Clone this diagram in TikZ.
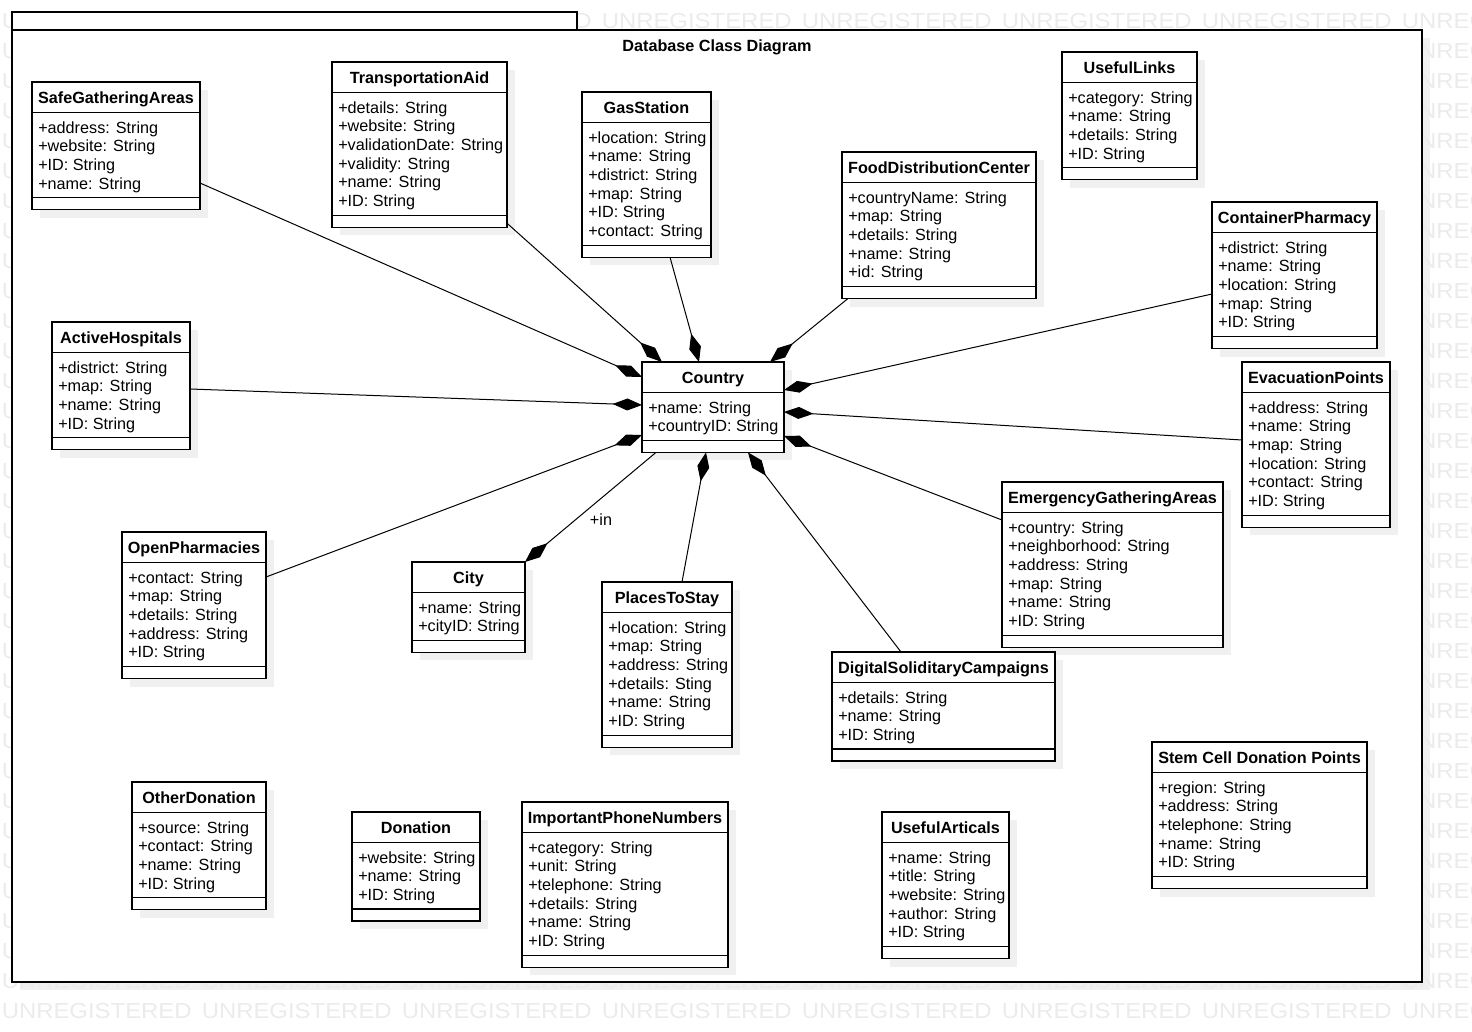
\documentclass[tikz,border=0pt]{standalone}
\usepackage{fontspec}
\setmainfont{Liberation Sans}
\usepackage{xcolor}
\usetikzlibrary{positioning,arrows.meta}
\definecolor{shadowgray}{RGB}{240,240,240}
\definecolor{markgray}{RGB}{235,235,235}

\newcommand{\umlfont}{\fontsize{12.15}{14}\selectfont}
% class box: name, x, y, width, number of attributes, title, attributes
\newcommand{\umlclass}[7]{%
    \fill[shadowgray] (#2+8,#3+8) rectangle ++(#4,{53+#5*18.7});
    \node[classbox, minimum width={#4*0.75pt}, minimum height={(53+#5*18.7)*0.75pt}] (#1) at (#2,#3) {};
    \node[classtitle, below=0pt of #1.north] (#1-t) {#6};
    \draw[classline] (#1-t.south -| #1.west) -- (#1-t.south -| #1.east);
    \node[classattr] (#1-a) at (#1-t.south -| #1.west) {\strut#7};
    \draw[classline] ([yshift=9pt]#1.south west) -- ([yshift=9pt]#1.south east);
}
\newcommand{\markword}[1]{\scalebox{1.1}[1]{#1}}

\tikzset{
    classbox/.style={draw, fill=white, line width=1pt, anchor=north west, inner sep=0pt, outer sep=0pt},
    classline/.style={line width=1pt},
    classtitle/.style={font=\umlfont\bfseries, text height=8.7pt, text depth=0pt, minimum height=22.5pt, inner sep=0pt},
    classattr/.style={font=\umlfont, anchor=north west, align=left, inner xsep=4.5pt, inner ysep=5.4pt},
    compose/.style={line width=0.75pt, -{Diamond[length=22pt, width=9pt]}},
    assoclabel/.style={font=\umlfont, inner sep=0pt},
    watermark/.style={font=\fontsize{16.3}{18}\selectfont, text=markgray, anchor=base west, inner sep=0pt},
    packagebox/.style={draw, fill=white, line width=1pt}
}

\begin{document}
\begin{tikzpicture}[x=0.75pt, y=-0.75pt]
    \useasboundingbox (0,0) rectangle (1472,1032);

    % Package shadow
    \fill[shadowgray] (20,38) rectangle (1430,990);

    % Watermark (only the parts that show round the package)
    \foreach \row in {0,32,33}
        \foreach \col in {0,...,7}
            \node[watermark] (wm-\row-\col) at (1.5+\col*200, 28+\row*30) {\markword{UNREGISTERED}};
    \foreach \row in {1,...,31} {
        \node[watermark] (wm-\row-0) at (1.5, 28+\row*30) {\markword{U}};
        \node[watermark] (wm-\row-7) at (1401.5, 28+\row*30) {\markword{UNREGISTERED}};
    }

    % Package frame
    \draw[packagebox] (12,30) rectangle (1422,982);
    \draw[packagebox] (12,12) rectangle (577,30);
    \node[classtitle, minimum height=0pt] (pkgtitle) at (717,45.5) {Database Class Diagram};

    % Classes
    \umlclass{safe}{32}{82}{168}{4}{SafeGatheringAreas}{+address: String\\+website: String\\+ID: String\\+name: String}
    \umlclass{transport}{332}{62}{175}{6}{TransportationAid}{+details: String\\+website: String\\+validationDate: String\\+validity: String\\+name: String\\+ID: String}
    \umlclass{gas}{582}{92}{129}{6}{GasStation}{+location: String\\+name: String\\+district: String\\+map: String\\+ID: String\\+contact: String}
    \umlclass{food}{842}{152}{194}{5}{FoodDistributionCenter}{+countryName: String\\+map: String\\+details: String\\+name: String\\+id: String}
    \umlclass{links}{1062}{52}{135}{4}{UsefulLinks}{+category: String\\+name: String\\+details: String\\+ID: String}
    \umlclass{container}{1212}{202}{165}{5}{ContainerPharmacy}{+district: String\\+name: String\\+location: String\\+map: String\\+ID: String}
    \umlclass{hospitals}{52}{322}{138}{4}{ActiveHospitals}{+district: String\\+map: String\\+name: String\\+ID: String}
    \umlclass{country}{642}{362}{142}{2}{Country}{+name: String\\+countryID: String}
    \umlclass{evacuation}{1242}{362}{148}{6}{EvacuationPoints}{+address: String\\+name: String\\+map: String\\+location: String\\+contact: String\\+ID: String}
    \umlclass{emergency}{1002}{482}{221}{6}{EmergencyGatheringAreas}{+country: String\\+neighborhood: String\\+address: String\\+map: String\\+name: String\\+ID: String}
    \umlclass{openpharm}{122}{532}{144}{5}{OpenPharmacies}{+contact: String\\+map: String\\+details: String\\+address: String\\+ID: String}
    \umlclass{city}{412}{562}{113}{2}{City}{+name: String\\+cityID: String}
    \umlclass{places}{602}{582}{130}{6}{PlacesToStay}{+location: String\\+map: String\\+address: String\\+details: Sting\\+name: String\\+ID: String}
    \umlclass{campaigns}{832}{652}{223}{3}{DigitalSoliditaryCampaigns}{+details: String\\+name: String\\+ID: String}
    \umlclass{stemcell}{1152}{742}{215}{5}{Stem Cell Donation Points}{+region: String\\+address: String\\+telephone: String\\+name: String\\+ID: String}
    \umlclass{otherdon}{132}{782}{134}{4}{OtherDonation}{+source: String\\+contact: String\\+name: String\\+ID: String}
    \umlclass{donation}{352}{812}{128}{3}{Donation}{+website: String\\+name: String\\+ID: String}
    \umlclass{phones}{522}{802}{206}{6}{ImportantPhoneNumbers}{+category: String\\+unit: String\\+telephone: String\\+details: String\\+name: String\\+ID: String}
    \umlclass{articles}{882}{812}{127}{5}{UsefulArticals}{+name: String\\+title: String\\+website: String\\+author: String\\+ID: String}

    % Compositions
    \draw[compose] ([shift={(0,101)}]safe.north east) -- ([shift={(0,15)}]country.north west);
    \draw[compose] ([shift={(0,-4)}]transport.south east) -- ([shift={(20,0)}]country.north west);
    \draw[compose] ([shift={(88,0)}]gas.south west) -- ([shift={(57,0)}]country.north west);
    \draw[compose] ([shift={(6,0)}]food.south west) -- ([shift={(-14,0)}]country.north east);
    \draw[compose] ([shift={(0,92)}]container.north west) -- ([shift={(0,28)}]country.north east);
    \draw[compose] ([shift={(0,78)}]evacuation.north west) -- ([shift={(0,50)}]country.north east);
    \draw[compose] ([shift={(0,38)}]emergency.north west) -- ([shift={(0,74)}]country.north east);
    \draw[compose] ([shift={(69,0)}]campaigns.north west) -- ([shift={(106,0)}]country.south west);
    \draw[compose] ([shift={(80,0)}]places.north west) -- ([shift={(64,0)}]country.south west);
    \draw[compose] ([shift={(0,45)}]openpharm.north east) -- ([shift={(0,73)}]country.north west);
    \draw[compose] ([shift={(0,67)}]hospitals.north east) -- ([shift={(0,43)}]country.north west);
    \draw[compose] ([shift={(14,0)}]country.south west) -- (city.north east);
    \node[assoclabel] (inlabel) at (601,520) {+in};
\end{tikzpicture}
\end{document}
